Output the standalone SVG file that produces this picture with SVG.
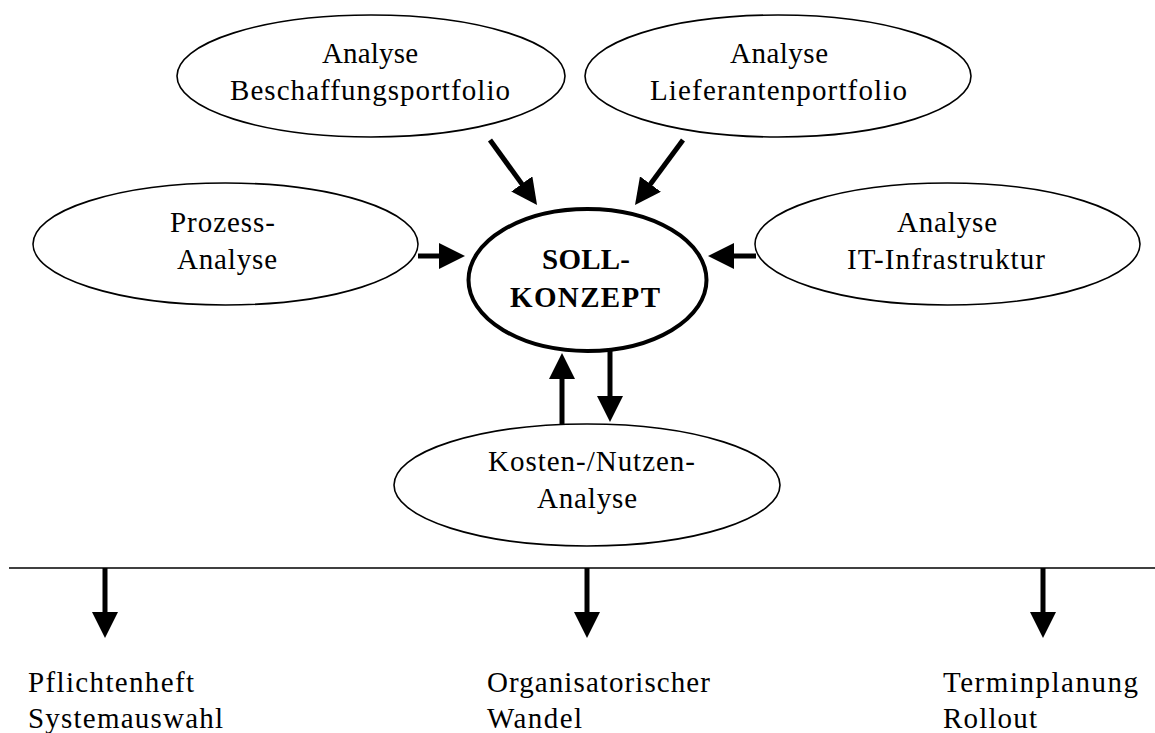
<svg xmlns="http://www.w3.org/2000/svg" width="1155" height="733" viewBox="0 0 1155 733">
  <style>
    .node { fill: #ffffff; stroke: #000000; stroke-width: 1.6; }
    .core { fill: #ffffff; stroke: #000000; stroke-width: 4; }
    .lbl { font-family: "Liberation Serif", "Times New Roman", serif; font-size: 29px; fill: #000000; }
    .bold { font-weight: bold; }
    .edge { stroke: #000000; stroke-width: 5; fill: none; marker-end: url(#head); }
    .rule { stroke: #000000; stroke-width: 1.6; }
  </style>
  <defs>
    <marker id="head" markerUnits="userSpaceOnUse" viewBox="0 0 26 26" markerWidth="26" markerHeight="26" refX="8" refY="13" orient="auto">
      <path d="M0,0 L26,13 L0,26 Z" fill="#000000"/>
    </marker>
  </defs>

  <rect width="1155" height="733" fill="#ffffff"/>

  <g id="beschaffung">
    <ellipse class="node" cx="371" cy="76" rx="194" ry="61"/>
    <text class="lbl" x="322" y="63" textLength="96" lengthAdjust="spacing">Analyse</text>
    <text class="lbl" x="230" y="100" textLength="280" lengthAdjust="spacing">Beschaffungsportfolio</text>
  </g>

  <g id="lieferanten">
    <ellipse class="node" cx="778" cy="76" rx="193" ry="61"/>
    <text class="lbl" x="730" y="63" textLength="98" lengthAdjust="spacing">Analyse</text>
    <text class="lbl" x="650" y="100" textLength="257" lengthAdjust="spacing">Lieferantenportfolio</text>
  </g>

  <g id="prozess">
    <ellipse class="node" cx="225.5" cy="244" rx="192.5" ry="61"/>
    <text class="lbl" x="170" y="232" textLength="105" lengthAdjust="spacing">Prozess-</text>
    <text class="lbl" x="177" y="269" textLength="100" lengthAdjust="spacing">Analyse</text>
  </g>

  <g id="it-infrastruktur">
    <ellipse class="node" cx="947.5" cy="244" rx="192.5" ry="61"/>
    <text class="lbl" x="897" y="232" textLength="100" lengthAdjust="spacing">Analyse</text>
    <text class="lbl" x="847" y="269" textLength="198" lengthAdjust="spacing">IT-Infrastruktur</text>
  </g>

  <g id="soll-konzept">
    <ellipse class="core" cx="587.5" cy="280" rx="119" ry="71"/>
    <text class="lbl bold" x="542" y="269" textLength="88" lengthAdjust="spacing">SOLL-</text>
    <text class="lbl bold" x="510" y="307" textLength="150" lengthAdjust="spacing">KONZEPT</text>
  </g>

  <g id="kosten-nutzen">
    <ellipse class="node" cx="587" cy="485" rx="193" ry="61"/>
    <text class="lbl" x="488" y="471" textLength="207" lengthAdjust="spacing">Kosten-/Nutzen-</text>
    <text class="lbl" x="537" y="508" textLength="100" lengthAdjust="spacing">Analyse</text>
  </g>

  <g id="pflichtenheft">
    <text class="lbl" x="28" y="692" textLength="166" lengthAdjust="spacing">Pflichtenheft</text>
    <text class="lbl" x="28" y="728" textLength="195" lengthAdjust="spacing">Systemauswahl</text>
  </g>

  <g id="wandel">
    <text class="lbl" x="487" y="692" textLength="223" lengthAdjust="spacing">Organisatorischer</text>
    <text class="lbl" x="487" y="728" textLength="95" lengthAdjust="spacing">Wandel</text>
  </g>

  <g id="terminplanung">
    <text class="lbl" x="943" y="692" textLength="195" lengthAdjust="spacing">Terminplanung</text>
    <text class="lbl" x="943" y="728" textLength="94" lengthAdjust="spacing">Rollout</text>
  </g>

  <g id="connectors">
    <line class="edge" x1="490" y1="140" x2="526.5" y2="190.4"/>
    <line class="edge" x1="683" y1="140" x2="645.7" y2="190.5"/>
    <line class="edge" x1="418" y1="256" x2="447" y2="256"/>
    <line class="edge" x1="756" y1="256" x2="726" y2="256"/>
    <line class="edge" x1="562" y1="424" x2="562" y2="371"/>
    <line class="edge" x1="610" y1="351" x2="610" y2="404"/>
    <line class="rule" x1="9" y1="568" x2="1155" y2="568"/>
    <line class="edge" x1="105" y1="568" x2="105" y2="620"/>
    <line class="edge" x1="587" y1="568" x2="587" y2="620"/>
    <line class="edge" x1="1043" y1="568" x2="1043" y2="620"/>
  </g>
</svg>
